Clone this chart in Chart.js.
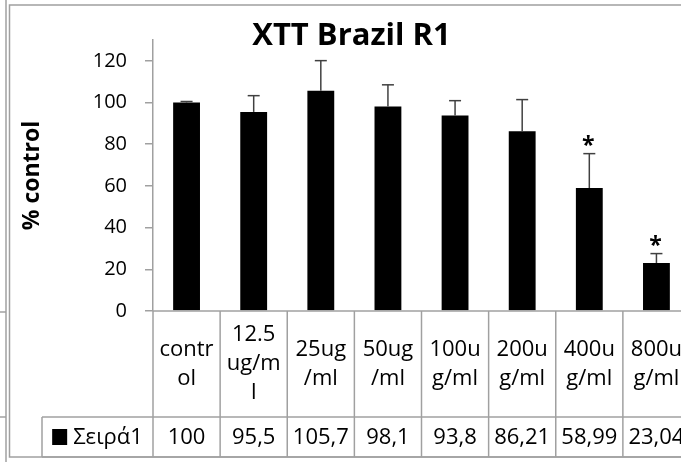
<!DOCTYPE html>
<html>
<head>
<meta charset="utf-8">
<script src="https://cdn.jsdelivr.net/npm/chart.js@4.4.1/dist/chart.umd.min.js"></script>
<style>
    html, body { margin: 0; padding: 0; background: #fff; overflow: hidden; }
    canvas { display: block; }
</style>
</head>
<body>
<canvas id="xttChart" width="701" height="462"></canvas>
<script>
// categories, split the way they wrap inside the data table cells
var categoryLines = [
    ['contr', 'ol'],
    ['12.5', 'ug/m', 'l'],
    ['25ug', '/ml'],
    ['50ug', '/ml'],
    ['100u', 'g/ml'],
    ['200u', 'g/ml'],
    ['400u', 'g/ml'],
    ['800u', 'g/ml']
];
var seriesName = 'Σειρά1';
var values = [100, 95.5, 105.7, 98.1, 93.8, 86.21, 58.99, 23.04];
var errors = [0.5, 7.8, 14.4, 10.4, 7.1, 15.2, 16.5, 4.5];
var marks = ['', '', '', '', '', '', '*', '*'];
var yTicks = [0, 20, 40, 60, 80, 100, 120];
var yMax = 130;
var chartTitle = 'XTT Brazil R1';
var yTitle = '% control';

var FONT = '"Open Sans", "Noto Sans", sans-serif';
var LINE = '#a0a0a0';

function line(ctx, x1, y1, x2, y2) {
    ctx.beginPath();
    ctx.moveTo(x1, y1);
    ctx.lineTo(x2, y2);
    ctx.stroke();
}

function formatValue(v) {
    return String(v).replace('.', ',');
}

var sheetDecor = {
    id: 'sheetDecor',
    beforeDraw: function (chart) {
        var ctx = chart.ctx;
        ctx.save();
        ctx.strokeStyle = LINE;
        ctx.lineWidth = 1.5;
        // edge of the neighbouring chart on the left
        line(ctx, 6, 0, 6, 462);
        line(ctx, 0, 312, 6, 312);
        line(ctx, 0, 417, 6, 417);
        // chart frame
        ctx.strokeRect(9.5, 5, 684, 452);
        ctx.restore();
    },
    afterDatasetsDraw: function (chart) {
        var ctx = chart.ctx;
        var y = chart.scales.y;
        var meta = chart.getDatasetMeta(0);
        ctx.save();
        meta.data.forEach(function (bar, i) {
            var top = y.getPixelForValue(values[i] + errors[i]);
            ctx.strokeStyle = '#404040';
            ctx.lineWidth = 1.5;
            line(ctx, bar.x, bar.y, bar.x, top);
            line(ctx, bar.x - 6, top, bar.x + 6, top);
            if (marks[i]) {
                ctx.fillStyle = '#000';
                ctx.font = 'bold 23px ' + FONT;
                ctx.textAlign = 'center';
                ctx.textBaseline = 'alphabetic';
                ctx.fillText(marks[i], bar.x - 1, top - 1);
            }
        });
        ctx.restore();
    },
    afterDraw: function (chart) {
        var ctx = chart.ctx;
        var area = chart.chartArea;
        var x = chart.scales.x;
        var n = values.length;
        var colW = (area.right - area.left) / n;
        var rowTop = area.bottom, rowMid = 417, rowBot = 457, legendLeft = 42;
        ctx.save();

        // title
        ctx.fillStyle = '#000';
        ctx.font = 'bold 31px ' + FONT;
        ctx.textAlign = 'center';
        ctx.textBaseline = 'alphabetic';
        ctx.fillText(chartTitle, 351.5, 44.5);

        // data table grid
        ctx.strokeStyle = LINE;
        ctx.lineWidth = 1.5;
        line(ctx, area.left, rowTop, area.right, rowTop);
        line(ctx, legendLeft, rowMid, area.right, rowMid);
        line(ctx, legendLeft, rowBot, area.right, rowBot);
        line(ctx, legendLeft, rowMid, legendLeft, rowBot);
        for (var i = 0; i <= n; i++) {
            var xi = area.left + i * colW;
            line(ctx, xi, rowTop, xi, rowBot);
        }

        // category labels and values
        ctx.fillStyle = '#000';
        ctx.font = '22px ' + FONT;
        ctx.textAlign = 'center';
        ctx.textBaseline = 'middle';
        var lh = 29;
        var catMid = (rowTop + rowMid) / 2;
        categoryLines.forEach(function (lines, i) {
            var cx = x.getPixelForValue(i);
            lines.forEach(function (t, k) {
                ctx.fillText(t, cx, catMid + (k - (lines.length - 1) / 2) * lh);
            });
            ctx.fillText(formatValue(values[i]), cx, (rowMid + rowBot) / 2 + 1);
        });

        // legend key cell
        var tw = ctx.measureText(seriesName).width;
        var total = 15 + 6 + tw;
        var lx = (legendLeft + area.left) / 2 - total / 2;
        var ly = (rowMid + rowBot) / 2;
        ctx.fillRect(lx, ly - 8, 15, 16);
        ctx.textAlign = 'left';
        ctx.fillText(seriesName, lx + 21, ly + 1);
        ctx.restore();
    }
};

new Chart(document.getElementById('xttChart'), {
    type: 'bar',
    data: {
        labels: categoryLines.map(function (l) { return l.join(''); }),
        datasets: [{
            label: seriesName,
            data: values,
            backgroundColor: '#000',
            borderWidth: 0,
            categoryPercentage: 1,
            barPercentage: 0.4
        }]
    },
    options: {
        responsive: false,
        animation: false,
        layout: { padding: { top: 40, left: 10, right: 11, bottom: 151 } },
        plugins: {
            legend: { display: false },
            title: { display: false },
            tooltip: { enabled: false }
        },
        scales: {
            x: { display: false },
            y: {
                min: 0,
                max: yMax,
                afterBuildTicks: function (s) {
                    s.ticks = yTicks.map(function (v) { return { value: v }; });
                },
                afterFit: function (s) { s.width = 143; },
                grid: { drawOnChartArea: false, drawTicks: true, tickLength: 8, color: LINE, lineWidth: 1.5 },
                border: { color: LINE, width: 1.5 },
                ticks: { font: { family: FONT, size: 20 }, color: '#000', padding: 18 },
                title: {
                    display: true,
                    text: yTitle,
                    color: '#000',
                    font: { family: FONT, size: 23, weight: 'bold' },
                    padding: { top: 9, bottom: 0 }
                }
            }
        }
    },
    plugins: [sheetDecor]
});
</script>
</body>
</html>
